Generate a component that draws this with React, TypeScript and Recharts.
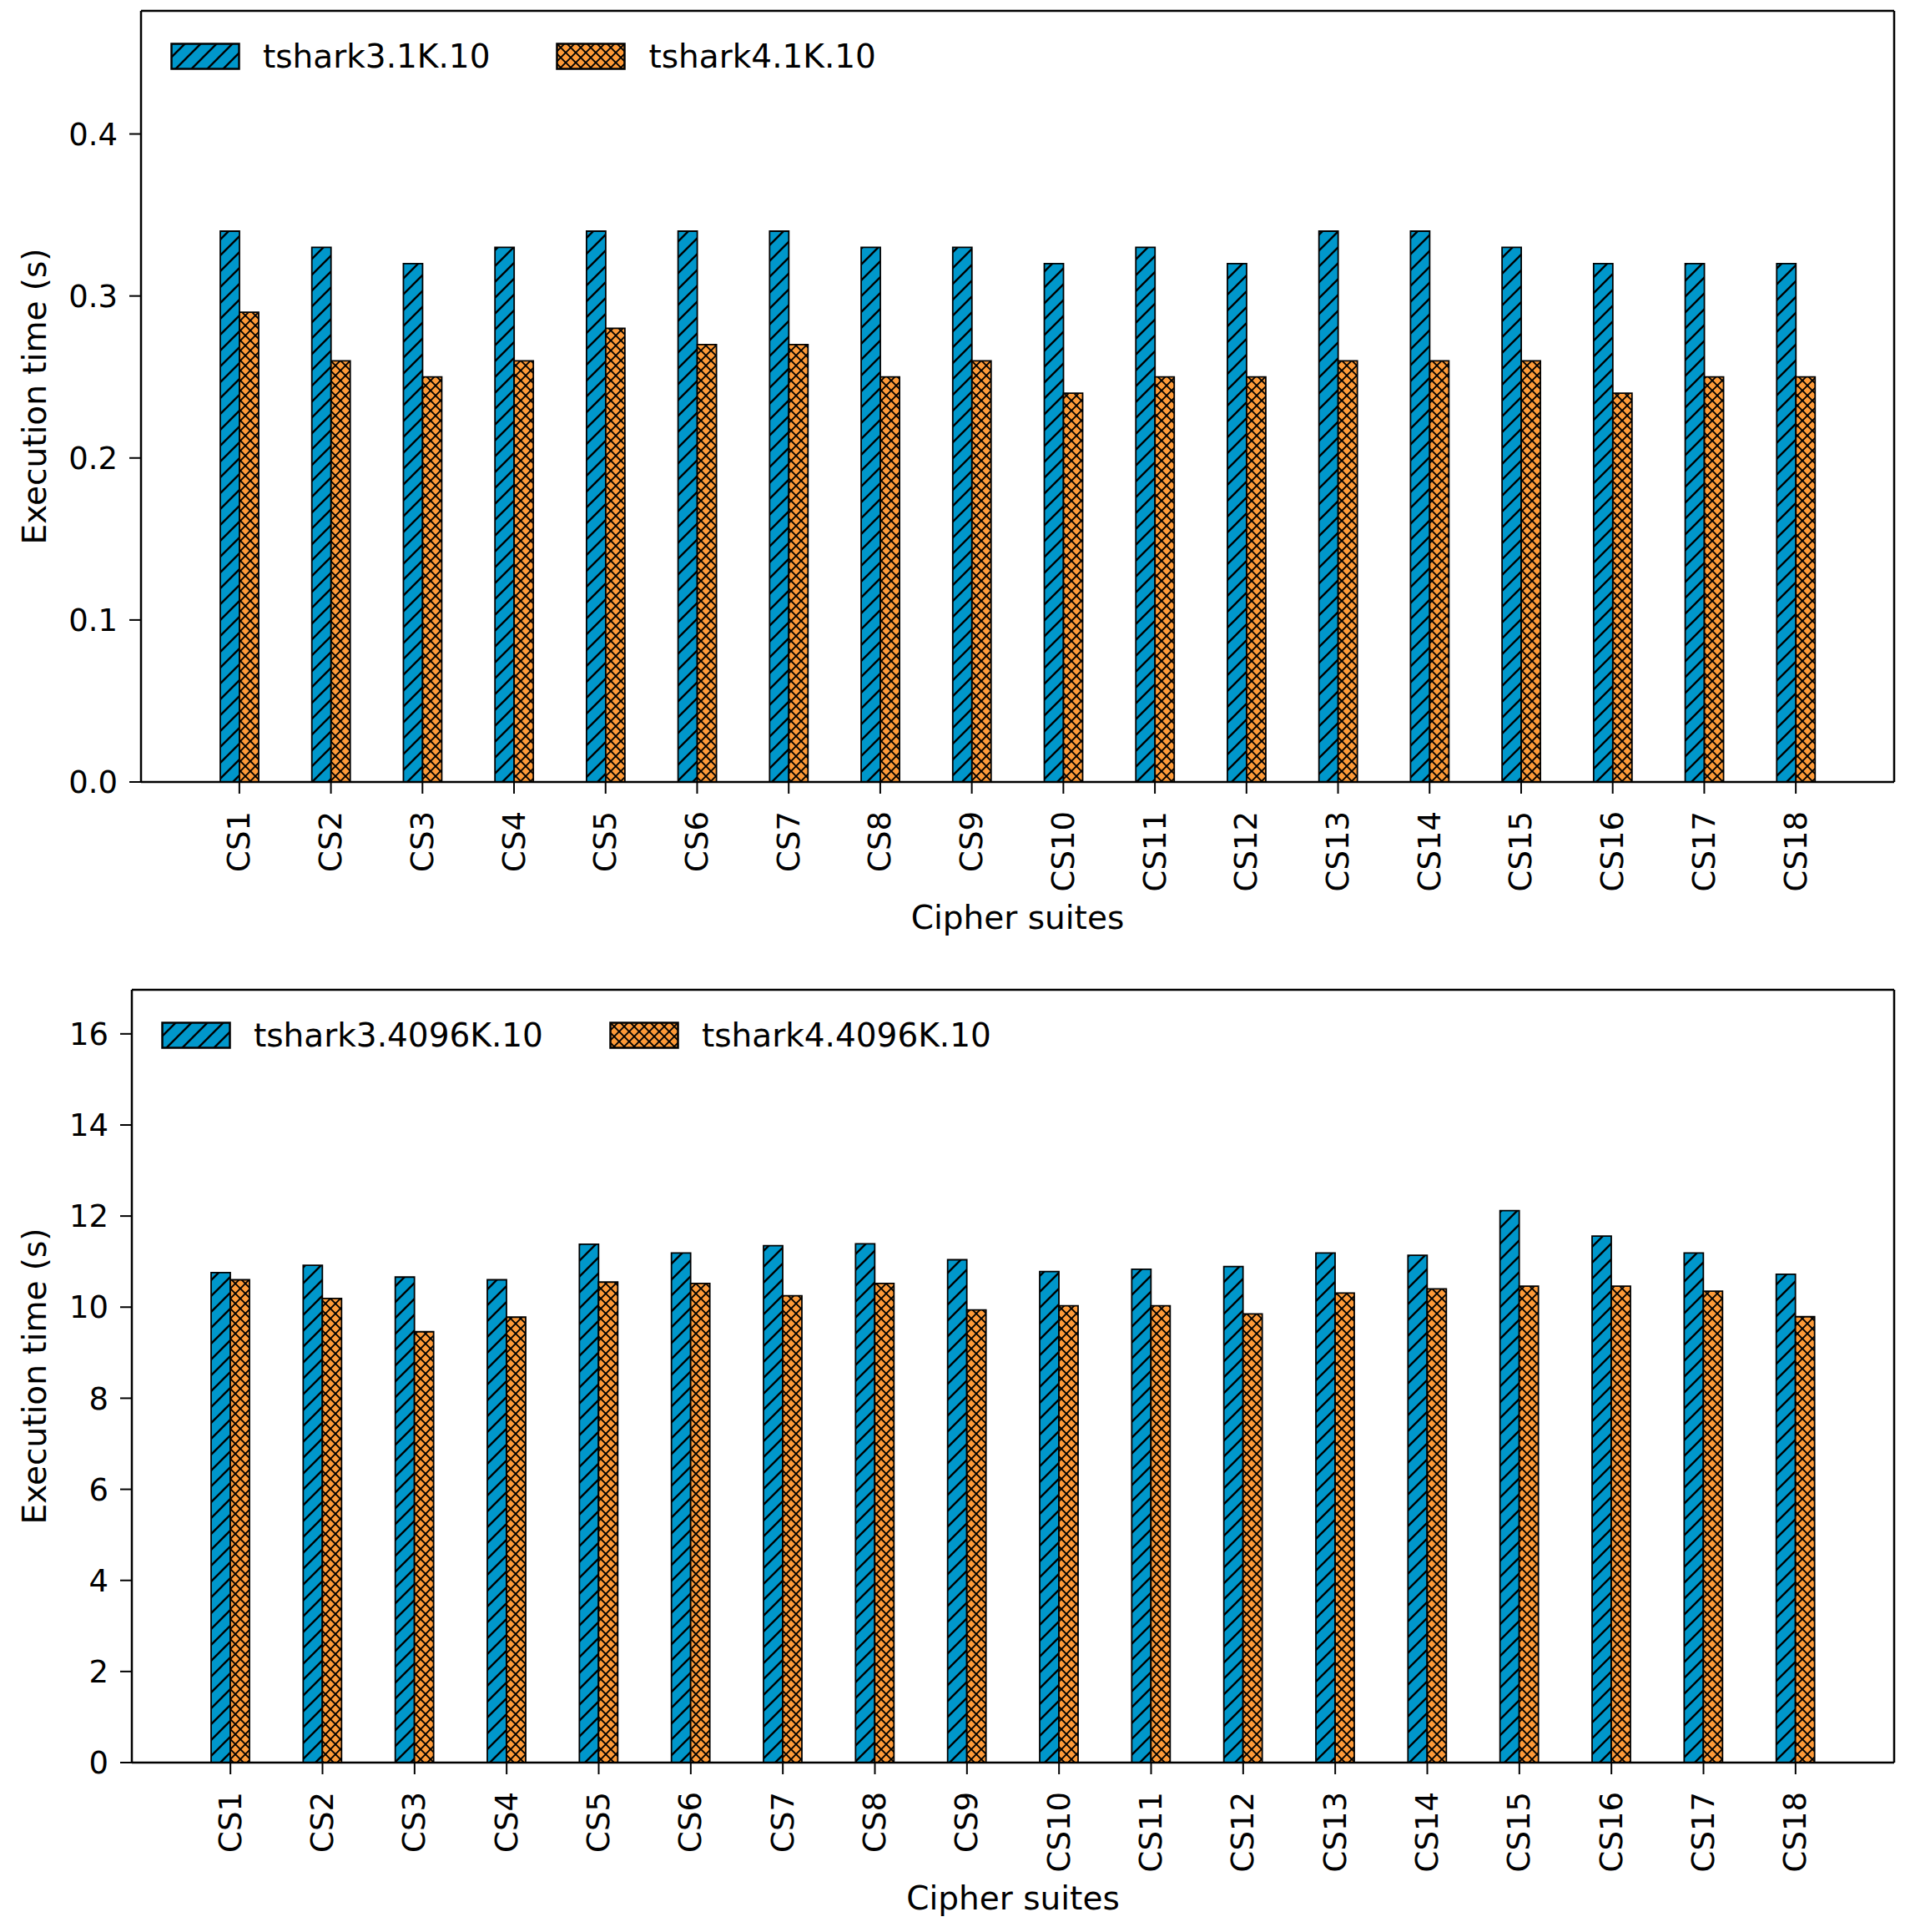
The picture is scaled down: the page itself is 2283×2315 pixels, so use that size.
import { Bar, BarChart, Label, Legend, XAxis, YAxis } from 'recharts';

const categories = ['CS1', 'CS2', 'CS3', 'CS4', 'CS5', 'CS6', 'CS7', 'CS8', 'CS9', 'CS10', 'CS11', 'CS12', 'CS13', 'CS14', 'CS15', 'CS16', 'CS17', 'CS18'];

// 1K runs
const tshark3_1K = [0.34, 0.33, 0.32, 0.33, 0.34, 0.34, 0.34, 0.33, 0.33, 0.32, 0.33, 0.32, 0.34, 0.34, 0.33, 0.32, 0.32, 0.32];
const tshark4_1K = [0.29, 0.26, 0.25, 0.26, 0.28, 0.27, 0.27, 0.25, 0.26, 0.24, 0.25, 0.25, 0.26, 0.26, 0.26, 0.24, 0.25, 0.25];

// 4096K runs
const tshark3_4096K = [10.76, 10.92, 10.66, 10.6, 11.38, 11.19, 11.35, 11.39, 11.04, 10.78, 10.83, 10.89, 11.19, 11.14, 12.12, 11.56, 11.19, 10.72];
const tshark4_4096K = [10.6, 10.19, 9.46, 9.78, 10.55, 10.52, 10.25, 10.52, 9.94, 10.03, 10.03, 9.85, 10.31, 10.4, 10.46, 10.46, 10.35, 9.79];

const ticks1K = [0, 0.1, 0.2, 0.3, 0.4];
const ticks4096K = [0, 2, 4, 6, 8, 10, 12, 14, 16];

const FONT = '"DejaVu Sans", Verdana, sans-serif';
const FS = 37; // tick labels
const FL = 39; // axis titles and legend
const BLUE = '#0097cb';
const ORANGE = '#fd9a38';

function Hatches({ id }: { id: string }) {
  return (
    <defs>
      <pattern id={`${id}-blue`} patternUnits="userSpaceOnUse" width={19} height={19}>
        <rect width={19} height={19} fill={BLUE} />
        <path d="M-1,20 L20,-1 M-5,5 L5,-5 M14,24 L24,14" stroke="#000" strokeWidth={2.4} />
      </pattern>
      <pattern id={`${id}-orange`} patternUnits="userSpaceOnUse" width={12} height={12}>
        <rect width={12} height={12} fill={ORANGE} />
        <path d="M-1,-1 L13,13 M-1,13 L13,-1" stroke="#000" strokeWidth={1.9} />
      </pattern>
    </defs>
  );
}

const XTick = (props: any) => {
  const { x, y, payload } = props;
  return (
    <text x={x} y={y} transform={`rotate(-90 ${x} ${y})`} textAnchor="end" dominantBaseline="central" fill="#000" fontSize={FS} fontFamily={FONT}>
      {payload.value}
    </text>
  );
};

type PanelProps = {
  id: string;
  s3: number[];
  s4: number[];
  names: [string, string];
  ticks: number[];
  decimals: number;
  height: number;
  top: number;
  yWidth: number;
  xHeight: number;
  legendTop: number;
  legendLeft: number;
};

function Panel({ id, s3, s4, names, ticks, decimals, height, top, yWidth, xHeight, legendTop, legendLeft }: PanelProps) {
  const data = categories.map((name, i) => ({ name, a: s3[i], b: s4[i] }));
  const ymax = Math.max(...s3, ...s4) * 1.4;
  const axisStroke = { stroke: '#000', strokeWidth: 2.5 };

  const legend = () => (
    <div style={{ display: 'flex', alignItems: 'center', fontFamily: FONT, fontSize: FL, color: '#000', whiteSpace: 'nowrap' }}>
      {names.map((n, i) => (
        <div key={n} style={{ display: 'flex', alignItems: 'center', marginRight: 79 }}>
          <svg width={84} height={33}>
            <Hatches id={`${id}-lg${i}`} />
            <rect x={1.5} y={1.5} width={81} height={30} fill={`url(#${id}-lg${i}-${i === 0 ? 'blue' : 'orange'})`} stroke="#000" strokeWidth={2.5} />
          </svg>
          <span style={{ marginLeft: 27 }}>{n}</span>
        </div>
      ))}
    </div>
  );

  return (
    <BarChart width={2283} height={height} data={data} margin={{ top: top - 1, right: 12, bottom: 0, left: 0 }} barGap={0}>
      <Hatches id={id} />
      <XAxis
        dataKey="name"
        interval={0}
        padding={{ left: 63, right: 63 }}
        height={xHeight}
        tickSize={14}
        tickMargin={21}
        tickLine={{ stroke: '#000', strokeWidth: 2 }}
        axisLine={axisStroke}
        tick={<XTick />}
      >
        <Label
          content={(p: any) => (
            <text x={p.viewBox.x + p.viewBox.width / 2} y={p.viewBox.y + 162} textAnchor="middle" dominantBaseline="central" fill="#000" fontSize={FL} fontFamily={FONT}>
              Cipher suites
            </text>
          )}
        />
      </XAxis>
      <XAxis xAxisId="top" orientation="top" dataKey="name" height={1} tick={false} tickLine={false} axisLine={axisStroke} />
      <YAxis
        width={yWidth}
        domain={[0, ymax]}
        ticks={ticks}
        tickSize={14}
        tickMargin={14}
        tickFormatter={(v: number) => v.toFixed(decimals)}
        tick={{ fill: '#000', fontSize: FS, fontFamily: FONT }}
        tickLine={{ stroke: '#000', strokeWidth: 2 }}
        axisLine={axisStroke}
      >
        <Label
          content={(p: any) => {
            const cx = 41;
            const cy = p.viewBox.y + p.viewBox.height / 2;
            return (
              <text x={cx} y={cy} transform={`rotate(-90 ${cx} ${cy})`} textAnchor="middle" dominantBaseline="central" fill="#000" fontSize={FL} fontFamily={FONT}>
                Execution time (s)
              </text>
            );
          }}
        />
      </YAxis>
      <YAxis yAxisId="right" orientation="right" width={1} domain={[0, ymax]} tick={false} tickLine={false} axisLine={axisStroke} />
      <Legend
        layout="horizontal"
        verticalAlign="middle"
        align="center"
        content={legend}
        wrapperStyle={{ top: legendTop, left: legendLeft, width: 'auto' }}
      />
      <Bar dataKey="a" name={names[0]} fill={`url(#${id}-blue)`} stroke="#000" strokeWidth={1.8} barSize={23} isAnimationActive={false} />
      <Bar dataKey="b" name={names[1]} fill={`url(#${id}-orange)`} stroke="#000" strokeWidth={1.8} barSize={23} isAnimationActive={false} />
    </BarChart>
  );
}

export default function App() {
  return (
    <div style={{ position: 'absolute', left: 0, top: 0, width: 2283, height: 2315, background: '#fff' }}>
      <Panel
        id="p1"
        s3={tshark3_1K}
        s4={tshark4_1K}
        names={['tshark3.1K.10', 'tshark4.1K.10']}
        ticks={ticks1K}
        decimals={1}
        height={1160}
        top={13}
        yWidth={169}
        xHeight={223}
        legendTop={45}
        legendLeft={204}
      />
      <Panel
        id="p2"
        s3={tshark3_4096K}
        s4={tshark4_4096K}
        names={['tshark3.4096K.10', 'tshark4.4096K.10']}
        ticks={ticks4096K}
        decimals={0}
        height={1155}
        top={26}
        yWidth={158}
        xHeight={203}
        legendTop={58}
        legendLeft={193}
      />
    </div>
  );
}
